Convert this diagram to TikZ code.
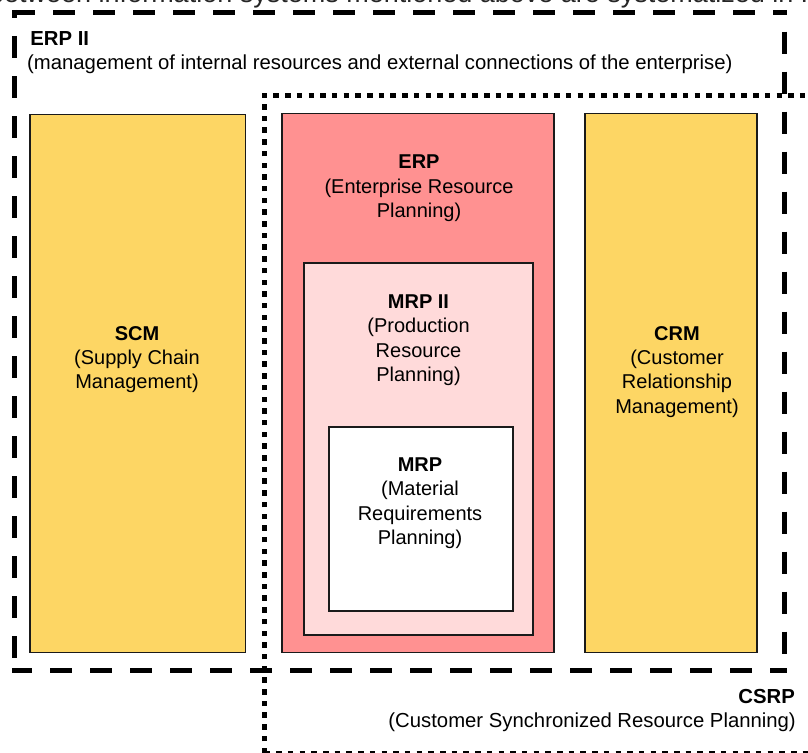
\documentclass[tikz,border=0pt]{standalone}
\usepackage{fontspec}
\setmainfont{Liberation Sans}
\definecolor{sysyellow}{RGB}{253,214,100}
\definecolor{erppink}{RGB}{255,145,145}
\definecolor{mrppink}{RGB}{255,218,218}
\definecolor{edge}{RGB}{26,26,26}
\begin{document}
\begin{tikzpicture}[x=1pt,y=-1pt,
  txt/.style={font=\fontsize{20}{24.2}\selectfont, inner sep=0pt, align=center, text=black},
  plain/.style={font=\fontsize{20.3}{24.2}\selectfont, inner sep=0pt, text=black},
  box/.style={draw=edge, line width=1.5pt, inner sep=0pt, anchor=center},
  dashline/.style={line width=5pt, dash pattern=on 22pt off 18pt},
  dotline/.style={line width=5pt, dash pattern=on 5.5pt off 6.2pt},
]
\useasboundingbox (0,0) rectangle (808,752);
\clip (0,0) rectangle (808,752);

% cut-off caption text at the top
\node[anchor=base west, inner sep=0pt, font=\fontsize{27}{30}\selectfont, text=black!85] (cut) at (-11,3) {between information systems mentioned above are systematized in F};

% CSRP dotted frame
\coordinate (cTL) at (264.5,95);
\coordinate (cTR) at (830,95);
\coordinate (cBL) at (264.5,753);
\coordinate (cBR) at (830,753);
\draw[dotline] (cBL) -- (cTL) -- (cTR);
\draw[dotline] (cBL) -- (cBR);

% ERP II dashed frame
\coordinate (eTL) at (14.5,12.5);
\coordinate (eTR) at (784.5,12.5);
\coordinate (eBR) at (784.5,670);
\coordinate (eBL) at (14.5,670);
\draw[dashline, dash phase=39pt] ([xshift=-2.5pt]eTL) -- ([xshift=2.5pt]eTR);
\draw[dashline, dash phase=14pt] ([yshift=2.5pt]eTL) -- ([yshift=-2.5pt]eBL);
\draw[dashline, dash phase=18.3pt] ([yshift=2.5pt]eTR) -- ([yshift=-2.5pt]eBR);
\draw[dashline, dash phase=2pt] ([xshift=-2.5pt]eBL) -- ([xshift=2.5pt]eBR);

% boxes
\node[box, fill=sysyellow, minimum width=215.5pt, minimum height=538pt] (scm) at (137.75,383.5) {};
\node[box, fill=erppink, minimum width=272pt, minimum height=539pt] (erp) at (418,383) {};
\node[box, fill=mrppink, line width=2pt, minimum width=229pt, minimum height=372pt] (mrpii) at (418.5,448.5) {};
\node[box, fill=white, line width=2pt, minimum width=184pt, minimum height=184pt] (mrp) at (420.5,518.5) {};
\node[box, fill=sysyellow, minimum width=172pt, minimum height=539pt] (crm) at (671,383) {};

% labels
\node[txt, anchor=north] (scmt) at (137,326.4) {\textbf{SCM}\\(Supply Chain\\Management)};
\node[txt, anchor=north] (erpt) at (419,155) {\textbf{ERP}\\(Enterprise Resource\\Planning)};
\node[txt, anchor=north] (mrpiit) at (418.5,294.7) {\textbf{MRP II}\\(Production\\Resource\\Planning)};
\node[txt, anchor=north] (mrpt) at (420,457.7) {\textbf{MRP}\\(Material\\Requirements\\Planning)};
\node[txt, anchor=north] (crmt) at (677,326.4) {\textbf{CRM}\\(Customer\\Relationship\\Management)};

\node[plain, anchor=base west] (erpiit) at (30.2,45.7) {\textbf{ERP II}};
\node[plain, anchor=base west] (erpiis) at (27,70) {(management of internal resources and external connections of the enterprise)};
\node[plain, anchor=base east] (csrpt) at (795,703.5) {\textbf{CSRP}};
\node[plain, anchor=base east] (csrps) at (796,727) {(Customer Synchronized Resource Planning)};
\end{tikzpicture}
\end{document}
